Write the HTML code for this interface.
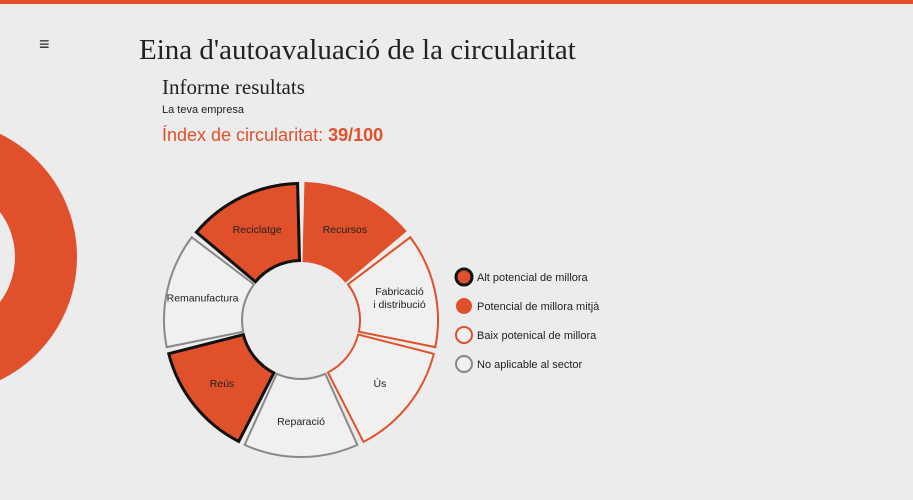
<!DOCTYPE html>
<html><head><meta charset="utf-8"><style>
body{margin:0;width:913px;height:500px;background:#ececec;overflow:hidden;position:relative;font-family:"Liberation Sans",sans-serif}
.t{position:absolute;white-space:nowrap}
</style></head><body>
<div style="position:absolute;left:0;top:0;width:913px;height:4px;background:#e0502a"></div>
<div class="t" style="left:39px;top:34px;font-size:18px;color:#222">≡</div>
<div class="t" style="left:139px;top:34px;font-family:'Liberation Serif',serif;font-size:29px;color:#222">Eina d'autoavaluació de la circularitat</div>
<div class="t" style="left:162px;top:75px;font-family:'Liberation Serif',serif;font-size:21px;color:#222">Informe resultats</div>
<div class="t" style="left:162px;top:104px;font-size:11px;color:#222">La teva empresa</div>
<div class="t" style="left:162px;top:125px;font-size:18px;color:#e0502a">Índex de circularitat: <b>39/100</b></div>
<svg width="913" height="500" style="position:absolute;left:0;top:0" id="chart">
<circle cx="-60" cy="257" r="106" fill="none" stroke="#e0502a" stroke-width="62"/>
</svg>
<script>
const categories=["Recursos","Fabricació|i distribució","Ús","Reparació","Reús","Remanufactura","Reciclatge"];
const levels=["mitja","baix","baix","na","alt","na","alt"];
const legendLabels=["Alt potencial de millora","Potencial de millora mitjà","Baix potenical de millora","No aplicable al sector"];
const legendLevels=["alt","mitja","baix","na"];
const styles={alt:{fill:"#e0502a",stroke:"#111",sw:3},mitja:{fill:"#e0502a",stroke:"#e0502a",sw:0},baix:{fill:"#f0f0f0",stroke:"#e0502a",sw:2},na:{fill:"#f0f0f0",stroke:"#888",sw:2}};
const svg=document.getElementById('chart'),NS="http://www.w3.org/2000/svg";
const cx=301,cy=320,R=138,r0=56,n=categories.length;
function pt(a,rad){return[cx+rad*Math.sin(a),cy-rad*Math.cos(a)];}
categories.forEach((c,i)=>{
  const s=styles[levels[i]];
  const pad=0.025,a0=i*2*Math.PI/n+pad,a1=(i+1)*2*Math.PI/n-pad;
  const ro=R-s.sw/2,ri=r0+2+s.sw/2;
  const p1=pt(a0,ro),p2=pt(a1,ro),p3=pt(a1,ri),p4=pt(a0,ri);
  const p=document.createElementNS(NS,'path');
  p.setAttribute('d',`M${p1}A${ro},${ro} 0 0 1 ${p2}L${p3}A${ri},${ri} 0 0 0 ${p4}Z`);
  p.setAttribute('fill',s.fill);p.setAttribute('stroke',s.stroke);p.setAttribute('stroke-width',s.sw);
  
  
  svg.appendChild(p);
  const m=(a0+a1)/2,lp=pt(m,(R+r0)/2+4),lines=c.split('|');
  lines.forEach((l,j)=>{
    const t=document.createElementNS(NS,'text');
    t.setAttribute('x',lp[0]);t.setAttribute('y',lp[1]+4+(j-(lines.length-1)/2)*13);
    t.setAttribute('text-anchor','middle');t.setAttribute('font-size','10.5');t.setAttribute('fill','#222');
    
    
    t.textContent=l;svg.appendChild(t);
  });
});
legendLabels.forEach((l,i)=>{
  const s=styles[legendLevels[i]],y=277+i*29;
  const c=document.createElementNS(NS,'circle');
  c.setAttribute('cx',464);c.setAttribute('cy',y);c.setAttribute('r',8);
  c.setAttribute('fill',s.fill);c.setAttribute('stroke',s.sw?s.stroke:s.fill);c.setAttribute('stroke-width',s.sw||0);
  
  
  svg.appendChild(c);
  const t=document.createElementNS(NS,'text');
  t.setAttribute('x',477);t.setAttribute('y',y+4);t.setAttribute('font-size','11');t.setAttribute('fill','#222');
  
  
  t.textContent=l;svg.appendChild(t);
});
</script>
</body></html>
